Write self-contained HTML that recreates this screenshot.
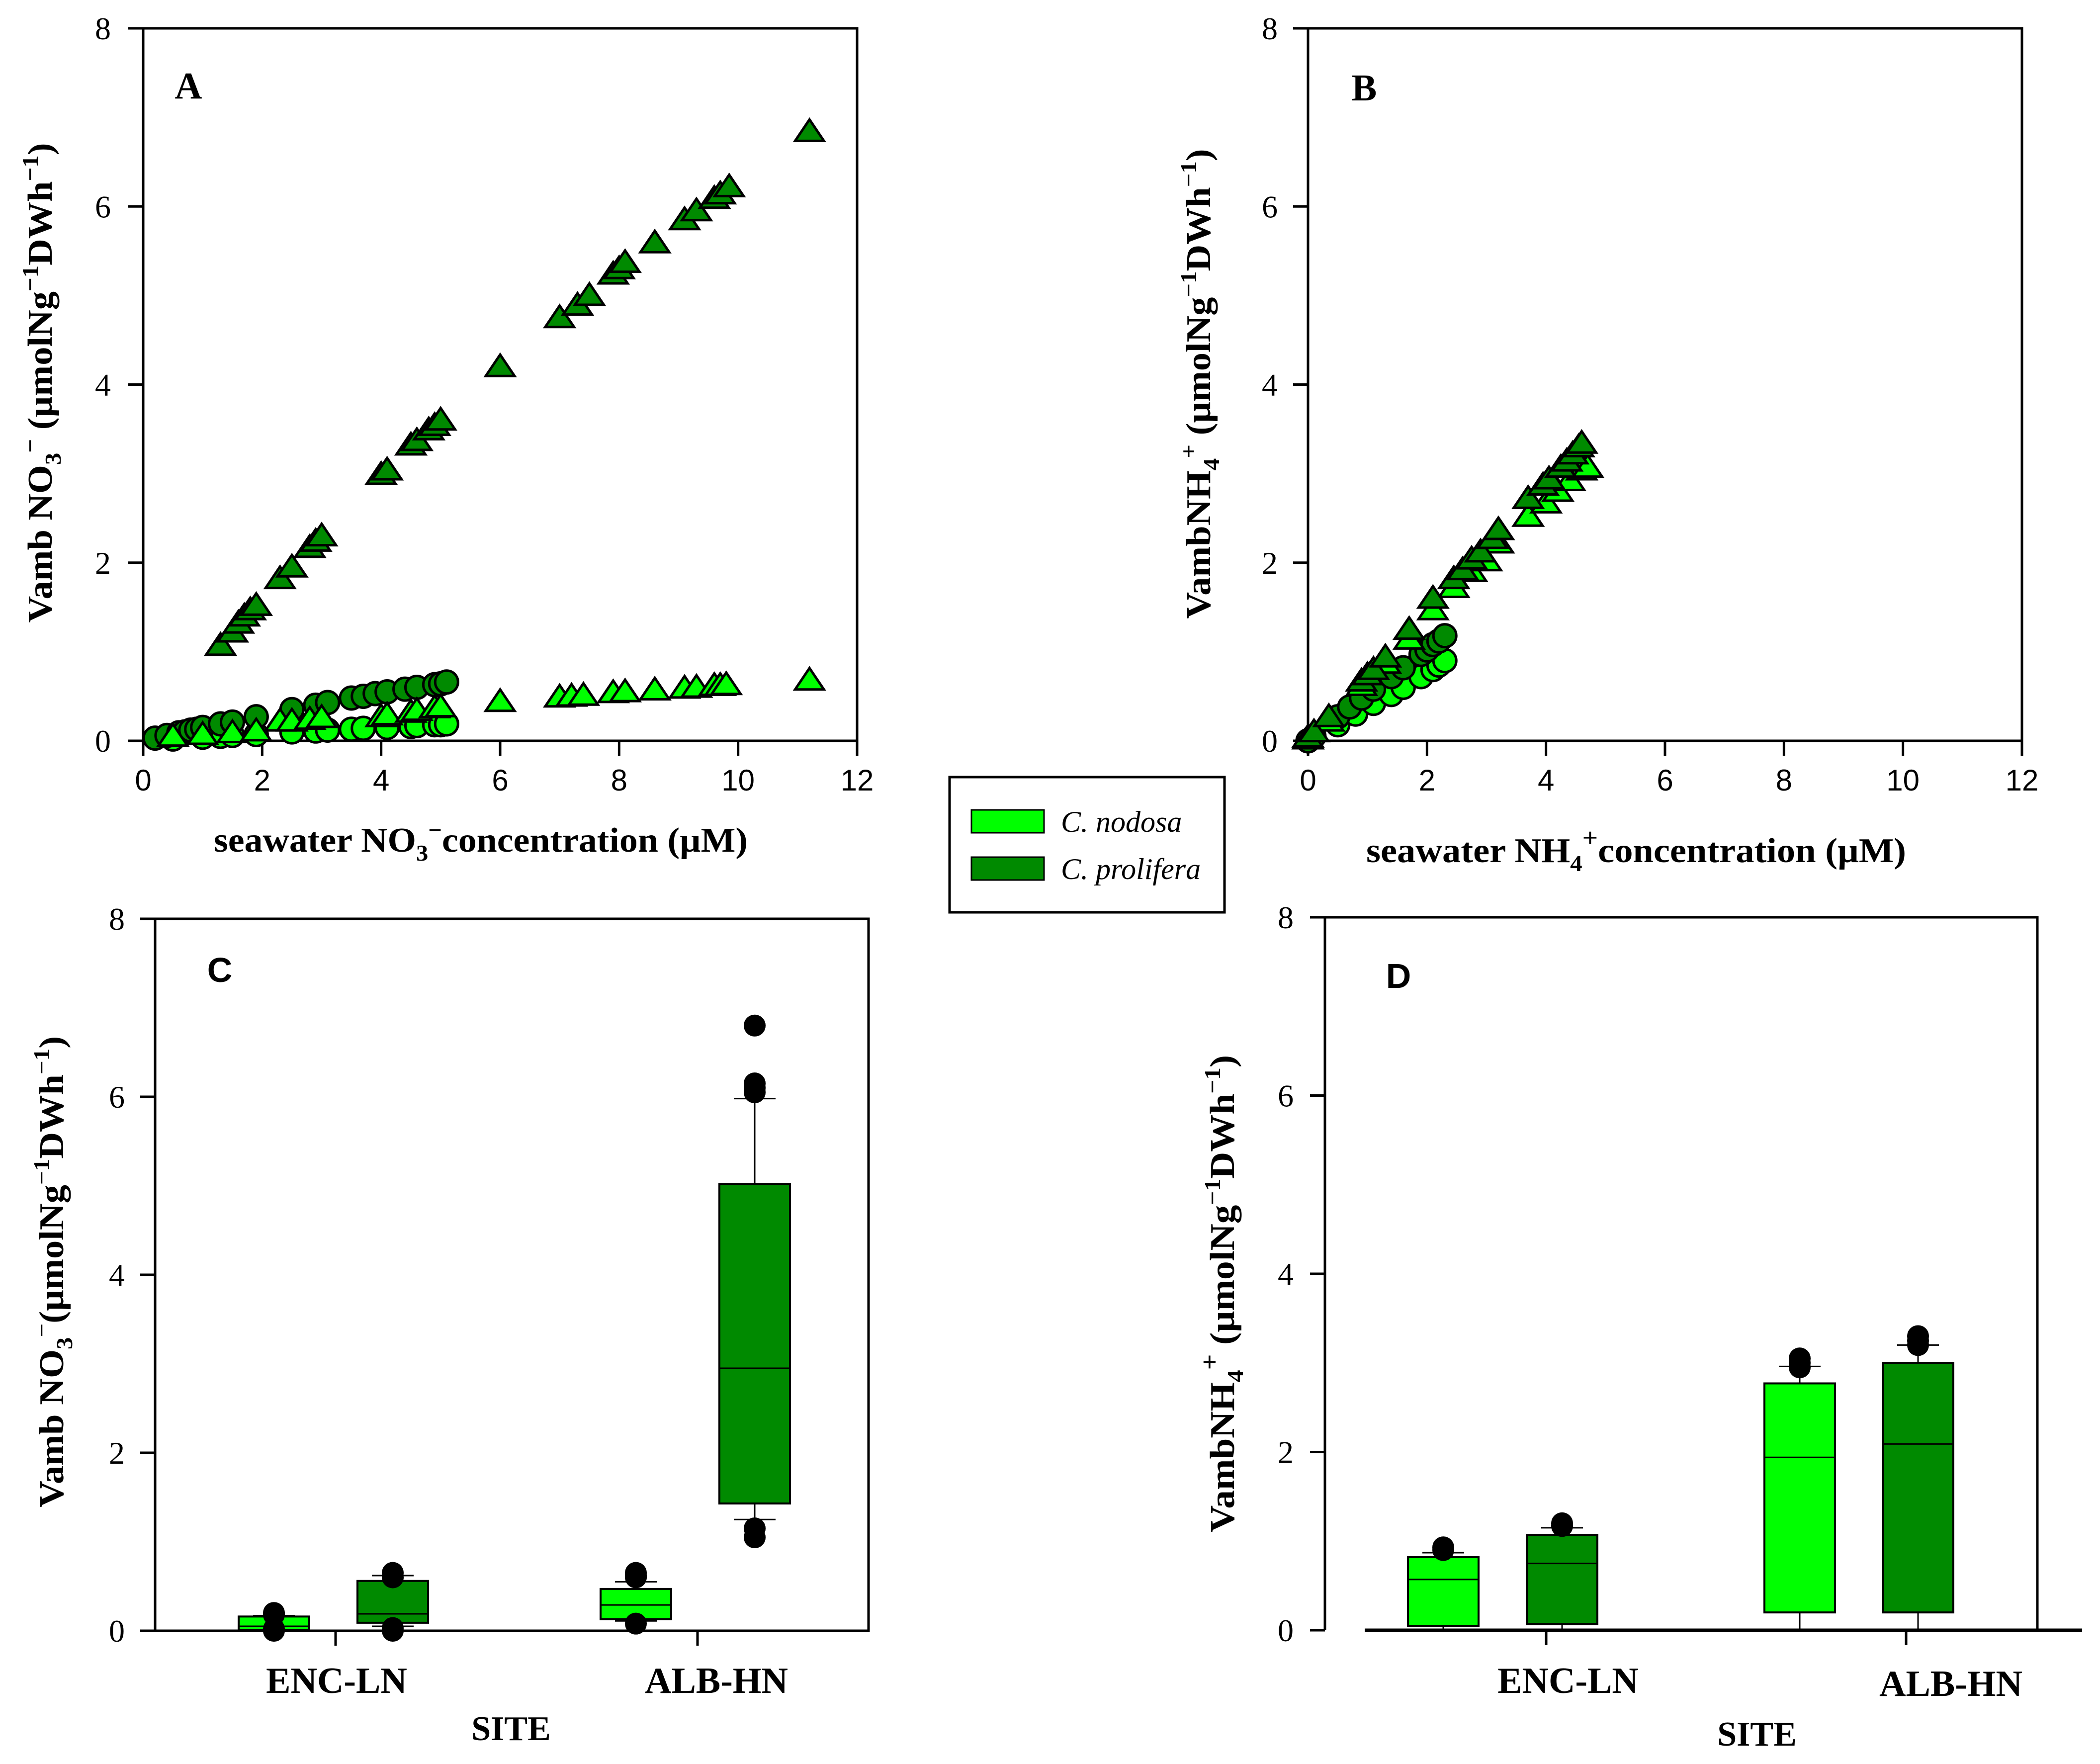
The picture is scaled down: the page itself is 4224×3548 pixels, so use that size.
<!DOCTYPE html>
<html><head><meta charset="utf-8"><style>
html,body{margin:0;padding:0;background:#fff}
svg{display:block}
.serif{font-family:"Liberation Serif",serif}
.sans{font-family:"Liberation Sans",sans-serif}
</style></head><body>
<svg id="fig" xmlns="http://www.w3.org/2000/svg" width="4224" height="3548" viewBox="0 0 4224 3548">
<rect x="0" y="0" width="4224" height="3548" fill="#fff"/>
<g id="pA"></g>
<g id="pB"></g>
<g id="pC"></g>
<g id="pD"></g>

<text class="serif" x="379" y="198" font-size="76" font-weight="bold" text-anchor="middle">A</text>
<text class="serif" x="2744" y="202" font-size="76" font-weight="bold" text-anchor="middle">B</text>
<text class="sans" x="442" y="1975" font-size="70" font-weight="bold" text-anchor="middle">C</text>
<text class="sans" x="2813" y="1987" font-size="70" font-weight="bold" text-anchor="middle">D</text>

<text class="serif" transform="translate(104,770) rotate(-90)" font-size="70" font-weight="bold" text-anchor="middle" textLength="965" lengthAdjust="spacingAndGlyphs">Vamb NO<tspan font-size="46" dy="18">3</tspan><tspan font-size="46" dy="-46">−</tspan><tspan dy="28"> (µmolNg</tspan><tspan font-size="46" dy="-28">−1</tspan><tspan dy="28">DWh</tspan><tspan font-size="46" dy="-28">−1</tspan><tspan dy="28">)</tspan></text>
<text class="serif" x="967" y="1713" font-size="70" font-weight="bold" text-anchor="middle" textLength="1074" lengthAdjust="spacingAndGlyphs">seawater NO<tspan font-size="46" dy="18">3</tspan><tspan font-size="46" dy="-46">−</tspan><tspan dy="28">concentration (µM)</tspan></text>

<text class="serif" transform="translate(2434,772) rotate(-90)" font-size="70" font-weight="bold" text-anchor="middle" textLength="945" lengthAdjust="spacingAndGlyphs">VambNH<tspan font-size="46" dy="18">4</tspan><tspan font-size="46" dy="-46">+</tspan><tspan dy="28"> (µmolNg</tspan><tspan font-size="46" dy="-28">−1</tspan><tspan dy="28">DWh</tspan><tspan font-size="46" dy="-28">−1</tspan><tspan dy="28">)</tspan></text>
<text class="serif" x="3291" y="1734" font-size="70" font-weight="bold" text-anchor="middle" textLength="1086" lengthAdjust="spacingAndGlyphs">seawater NH<tspan font-size="46" dy="18">4</tspan><tspan font-size="52" dy="-50">+</tspan><tspan dy="32">concentration (µM)</tspan></text>

<text class="serif" transform="translate(127,2558) rotate(-90)" font-size="70" font-weight="bold" text-anchor="middle" textLength="948" lengthAdjust="spacingAndGlyphs">Vamb NO<tspan font-size="46" dy="18">3</tspan><tspan font-size="46" dy="-46">−</tspan><tspan dy="28">(µmolNg</tspan><tspan font-size="46" dy="-28">−1</tspan><tspan dy="28">DWh</tspan><tspan font-size="46" dy="-28">−1</tspan><tspan dy="28">)</tspan></text>
<text class="serif" x="677" y="3405" font-size="74" font-weight="bold" text-anchor="middle">ENC-LN</text>
<text class="serif" x="1441" y="3405" font-size="74" font-weight="bold" text-anchor="middle">ALB-HN</text>
<text class="serif" x="1028" y="3500" font-size="70" font-weight="bold" text-anchor="middle">SITE</text>

<text class="serif" transform="translate(2482,2602) rotate(-90)" font-size="70" font-weight="bold" text-anchor="middle" textLength="960" lengthAdjust="spacingAndGlyphs">VambNH<tspan font-size="46" dy="18">4</tspan><tspan font-size="52" dy="-50">+</tspan><tspan dy="32"> (µmolNg</tspan><tspan font-size="46" dy="-28">−1</tspan><tspan dy="28">DWh</tspan><tspan font-size="46" dy="-28">−1</tspan><tspan dy="28">)</tspan></text>
<text class="serif" x="3154" y="3405" font-size="74" font-weight="bold" text-anchor="middle">ENC-LN</text>
<text class="serif" x="3924" y="3411" font-size="74" font-weight="bold" text-anchor="middle">ALB-HN</text>
<text class="serif" x="3534" y="3511" font-size="70" font-weight="bold" text-anchor="middle">SITE</text>

<g>
<rect x="1910" y="1563" width="553" height="272" fill="#fff" stroke="#000" stroke-width="5"/>
<rect x="1954" y="1629" width="146" height="46" fill="#00ff00" stroke="#000" stroke-width="3"/>
<text class="serif" x="2134" y="1673" font-size="60" font-style="italic">C. nodosa</text>
<rect x="1954" y="1724" width="146" height="46" fill="#008a00" stroke="#000" stroke-width="3"/>
<text class="serif" x="2134" y="1768" font-size="60" font-style="italic">C. prolifera</text>
</g>
</svg>
<script>
const NS='http://www.w3.org/2000/svg';
const LIGHT='#00ff00', DARK='#008a00';
// Panel A data (NO3)
const aDarkTriX=[1.3,1.5,1.6,1.7,1.8,1.9,2.3,2.5,2.8,2.9,3.0,4.0,4.1,4.5,4.6,4.8,4.9,5.0,6.0,7.0,7.3,7.5,7.9,8.0,8.1,8.6,9.1,9.3,9.6,9.7,9.85,11.2];
const aDarkTriY=[1.05,1.2,1.3,1.38,1.45,1.5,1.8,1.93,2.15,2.22,2.28,2.97,3.02,3.3,3.35,3.47,3.52,3.58,4.18,4.73,4.87,4.98,5.22,5.28,5.35,5.57,5.83,5.93,6.07,6.12,6.2,6.82];
const aLightTriX=[0.5,1.0,1.5,1.9,2.3,2.5,2.8,3.0,4.0,4.1,4.5,4.6,4.9,5.0,6.0,7.0,7.2,7.4,7.9,8.1,8.6,9.1,9.3,9.6,9.7,9.8,11.2];
const aLightTriY=[0.03,0.05,0.07,0.09,0.2,0.2,0.22,0.24,0.25,0.27,0.3,0.32,0.35,0.36,0.42,0.47,0.48,0.49,0.52,0.53,0.55,0.57,0.58,0.6,0.6,0.61,0.66];
const aDarkCirX=[0.2,0.4,0.6,0.7,0.8,0.9,1.0,1.3,1.5,1.9,2.5,2.9,3.1,3.5,3.7,3.9,4.1,4.4,4.6,4.9,5.0,5.1];
const aDarkCirY=[0.03,0.06,0.09,0.1,0.12,0.13,0.15,0.19,0.21,0.27,0.35,0.4,0.43,0.48,0.5,0.53,0.55,0.58,0.6,0.63,0.64,0.66];
const aLightCirX=[0.5,1.0,1.3,1.5,1.9,2.5,2.9,3.1,3.5,3.7,4.1,4.5,4.6,4.9,5.0,5.1];
const aLightCirY=[0.02,0.04,0.05,0.06,0.07,0.1,0.11,0.12,0.13,0.14,0.15,0.16,0.17,0.18,0.18,0.19];
// Panel B data (NH4)
const bDarkTriX=[0,0.1,0.35,0.9,1.0,1.1,1.3,1.7,2.1,2.45,2.6,2.75,2.9,3.1,3.2,3.7,3.95,4.05,4.25,4.35,4.45,4.55,4.6];
const bDarkTriY=[0.02,0.08,0.25,0.65,0.72,0.78,0.92,1.23,1.58,1.8,1.9,2.02,2.1,2.25,2.35,2.7,2.85,2.92,3.05,3.12,3.2,3.28,3.32];
const bLightTriX=[0,0.35,0.9,1.3,1.7,2.1,2.45,2.75,3.0,3.2,3.7,4.0,4.2,4.4,4.6,4.7];
const bLightTriY=[0,0.2,0.6,0.85,1.12,1.45,1.7,1.88,2.0,2.2,2.5,2.65,2.78,2.9,3.02,3.05];
const bDarkCirX=[0,0.1,0.5,0.7,0.9,1.1,1.4,1.6,1.9,2.0,2.1,2.2,2.3];
const bDarkCirY=[0,0.05,0.27,0.38,0.48,0.58,0.72,0.82,0.97,1.02,1.08,1.12,1.18];
const bLightCirX=[0,0.5,0.8,1.1,1.4,1.6,1.9,2.1,2.2,2.3];
const bLightCirY=[0,0.18,0.3,0.42,0.52,0.6,0.72,0.8,0.85,0.9];
// Tick labels
const yTicks=[0,2,4,6,8];
const xTicks=[0,2,4,6,8,10,12];
// Box plots: [q1, median, q3, whiskerLow, whiskerHigh]
const cCategories=['ENC-LN','ALB-HN'];
const cNodosa=[[0.01,0.05,0.16,0.01,0.17],[0.13,0.29,0.47,0.11,0.55]];
const cProlifera=[[0.09,0.19,0.56,0.05,0.62],[1.43,2.95,5.02,1.25,5.98]];
const cNodosaOut=[[0.0,0.02,0.2,0.18],[0.08,0.6,0.65,0.62]];
const cProliferaOut=[[0.0,0.03,0.6,0.65],[1.05,1.15,6.05,6.1,6.15,6.8]];
const dNodosa=[[0.05,0.57,0.82,0.0,0.87],[0.2,1.94,2.77,0.0,2.96]];
const dProlifera=[[0.07,0.75,1.07,0.0,1.15],[0.2,2.09,3.0,0.0,3.2]];
const dNodosaOut=[[0.9,0.93],[2.95,3.0,3.05]];
const dProliferaOut=[[1.17,1.2],[3.2,3.25,3.3]];

function mk(tag,parent){const e=document.createElementNS(NS,tag);parent.appendChild(e);return e;}
function attrs(e,o){for(const k in o)e.setAttribute(k,o[k]);}

function frame(g,l,r,t,b){
  const f=mk('rect',g);
  
  
  attrs(f,{x:l,y:t,width:r-l,height:b-t,fill:'none',stroke:'#000','stroke-width':5});
}
function yAxis(g,l,yf,labX){
  yTicks.forEach(v=>{
    const y=yf(v);
    const tk=mk('line',g);
    
    
    attrs(tk,{x1:l-30,x2:l,y1:y,y2:y,stroke:'#000','stroke-width':5});
    const tx=mk('text',g);
    
    
    attrs(tx,{x:labX,y:y+22,'font-size':64,'text-anchor':'middle','class':'serif'});
    tx.textContent=v;
  });
}
function xAxis(g,xf,b){
  xTicks.forEach(v=>{
    const x=xf(v);
    const tk=mk('line',g);
    
    
    attrs(tk,{x1:x,x2:x,y1:b,y2:b+30,stroke:'#000','stroke-width':5});
    const tx=mk('text',g);
    
    
    attrs(tx,{x:x,y:b+100,'font-size':60,'text-anchor':'middle','class':'sans'});
    tx.textContent=v;
  });
}
function circles(g,xs,ys,xf,yf,color,name){
  xs.forEach((v,i)=>{
    const c=mk('circle',g);
    
    
    attrs(c,{cx:xf(v),cy:yf(ys[i]),r:23,fill:color,stroke:'#000','stroke-width':5});
  });
}
function tris(g,xs,ys,xf,yf,color,name){
  xs.forEach((v,i)=>{
    const x=xf(v),y=yf(ys[i]);
    const p=mk('polygon',g);
    
    
    attrs(p,{points:`${x-29},${y+15} ${x+29},${y+15} ${x},${y-28}`,fill:color,stroke:'#000','stroke-width':5,'stroke-linejoin':'miter'});
  });
}

// Panel A
(function(){
  const g=document.getElementById('pA');
  const L=288,R=1724,T=57,B=1490;
  const xf=v=>L+v*(R-L)/12, yf=v=>B-v*(B-T)/8;
  frame(g,L,R,T,B);
  yAxis(g,L,yf,207); xAxis(g,xf,B);
  circles(g,aLightCirX,aLightCirY,xf,yf,LIGHT,'nodosa-no3-point');
  circles(g,aDarkCirX,aDarkCirY,xf,yf,DARK,'prolifera-no3-point');
  tris(g,aLightTriX,aLightTriY,xf,yf,LIGHT,'nodosa-no3-triangle');
  tris(g,aDarkTriX,aDarkTriY,xf,yf,DARK,'prolifera-no3-triangle');
})();
// Panel B
(function(){
  const g=document.getElementById('pB');
  const L=2631,R=4067,T=57,B=1490;
  const xf=v=>L+v*(R-L)/12, yf=v=>B-v*(B-T)/8;
  frame(g,L,R,T,B);
  yAxis(g,L,yf,2554); xAxis(g,xf,B);
  circles(g,bLightCirX,bLightCirY,xf,yf,LIGHT,'nodosa-nh4-point');
  circles(g,bDarkCirX,bDarkCirY,xf,yf,DARK,'prolifera-nh4-point');
  tris(g,bLightTriX,bLightTriY,xf,yf,LIGHT,'nodosa-nh4-triangle');
  tris(g,bDarkTriX,bDarkTriY,xf,yf,DARK,'prolifera-nh4-triangle');
})();

function box(g,cx,st,out,yf,color,name){
  const w=142,hw=w/2;
  const [q1,med,q3,wl,wh]=st;
  const wg=mk('g',g);
  
  
  const l1=mk('line',wg);
  
  
  attrs(l1,{x1:cx,x2:cx,y1:yf(q3),y2:yf(wh),stroke:'#000','stroke-width':3});
  const c1=mk('line',wg);
  
  
  attrs(c1,{x1:cx-42,x2:cx+42,y1:yf(wh),y2:yf(wh),stroke:'#000','stroke-width':3});
  if(wl<q1){
    const l2=mk('line',wg);
    
    
    attrs(l2,{x1:cx,x2:cx,y1:yf(q1),y2:yf(wl),stroke:'#000','stroke-width':3});
    const c2=mk('line',wg);
    
    
    attrs(c2,{x1:cx-42,x2:cx+42,y1:yf(wl),y2:yf(wl),stroke:'#000','stroke-width':3});
  }
  const r=mk('rect',wg);
  
  
  attrs(r,{x:cx-hw,y:yf(q3),width:w,height:yf(q1)-yf(q3),fill:color,stroke:'#000','stroke-width':4});
  const m=mk('line',wg);
  
  
  attrs(m,{x1:cx-hw,x2:cx+hw,y1:yf(med),y2:yf(med),stroke:'#000','stroke-width':3});
  out.forEach(v=>{
    const c=mk('circle',wg);
    
    
    attrs(c,{cx:cx,cy:yf(v),r:22,fill:'#000'});
  });
}

// Panel C
(function(){
  const g=document.getElementById('pC');
  const L=312,R=1747,T=1848,B=3280;
  const yf=v=>B-v*(B-T)/8;
  frame(g,L,R,T,B);
  yAxis(g,L,yf,235);
  const centers=[675,1403], offs=[-124,115];
  cCategories.forEach((c,i)=>{
    const tk=mk('line',g);
    
    
    attrs(tk,{x1:centers[i],x2:centers[i],y1:B,y2:B+30,stroke:'#000','stroke-width':5});
    box(g,centers[i]+offs[0],cNodosa[i],cNodosaOut[i],yf,LIGHT,'box-nodosa-'+c.toLowerCase());
    box(g,centers[i]+offs[1],cProlifera[i],cProliferaOut[i],yf,DARK,'box-prolifera-'+c.toLowerCase());
  });
})();
// Panel D
(function(){
  const g=document.getElementById('pD');
  const L=2665,R=4098,T=1845,B=3279;
  const yf=v=>B-v*(B-T)/8;
  const f=mk('path',g);
  
  
  attrs(f,{d:`M${L},${B} L${L},${T} L${R},${T} L${R},${B}`,fill:'none',stroke:'#000','stroke-width':5});
  yAxis(g,L,yf,2586);
  const centers=[3110,3834], bx=[[2903,3142],[3620,3858]];
  cCategories.forEach((c,i)=>{
    const tk=mk('line',g);
    
    
    attrs(tk,{x1:centers[i],x2:centers[i],y1:B,y2:B+30,stroke:'#000','stroke-width':5});
    box(g,bx[i][0],dNodosa[i],dNodosaOut[i],yf,LIGHT,'box-nodosa-'+c.toLowerCase());
    box(g,bx[i][1],dProlifera[i],dProliferaOut[i],yf,DARK,'box-prolifera-'+c.toLowerCase());
  });
  const base=mk('line',g);
  
  
  attrs(base,{x1:2745,x2:4188,y1:B,y2:B,stroke:'#000','stroke-width':7});
})();
</script>
</body></html>
